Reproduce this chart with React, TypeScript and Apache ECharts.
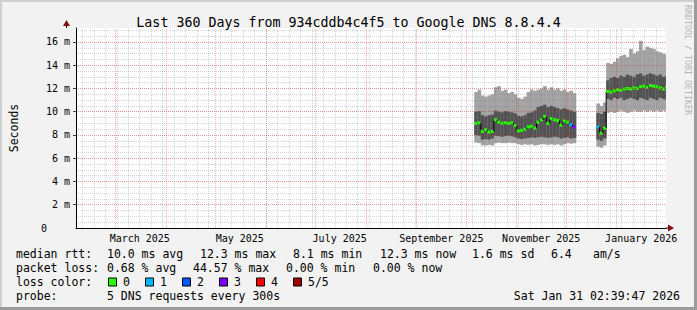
import React, { useEffect, useRef } from "react";
import * as echarts from "echarts";

const W = 697;
const H = 310;
const MONO = "'DejaVu Sans Mono', monospace";

// ---------- chart meta ----------
const TITLE = "Last 360 Days from 934cddb4c4f5 to Google DNS 8.8.4.4";
const START_MS = Date.UTC(2025, 1, 5, 2, 39, 47);
const SPAN_DAYS = 360;
const BUCKET_DAYS = 2;
const Y_MAX = 17.2;
const Y_STEP = 2;
const Y_MINOR = 0.5;

// ---------- axis calendar ----------
const monthGridDates = [
  "2025-03-01", "2025-04-01", "2025-05-01", "2025-06-01", "2025-07-01", "2025-08-01",
  "2025-09-01", "2025-10-01", "2025-11-01", "2025-12-01", "2026-01-01",
];
const monthLabelDates = ["2025-03-16", "2025-05-16", "2025-07-16", "2025-09-16", "2025-11-16", "2026-01-16"];
const monthLabelTexts = ["March 2025", "May 2025", "July 2025", "September 2025", "November 2025", "January 2026"];
const FIRST_SUNDAY = "2025-02-09";

// ---------- smoke data (ms), segment 1 ----------
const seg1Days = [243, 245, 247, 249, 251, 253, 255, 257, 259, 261, 263, 265, 267, 269, 271, 273, 275, 277, 279, 281, 283, 285, 287, 289, 291, 293, 295, 297, 299, 301, 303];
const seg1Max = [11.7, 11.9, 11.4, 11.3, 11.4, 11.5, 12.1, 12.2, 11.8, 11.9, 11.6, 11.7, 11.5, 11.2, 11.1, 11.3, 11.7, 11.9, 11.8, 11.9, 12.0, 12.2, 11.9, 12.1, 11.9, 12.0, 11.8, 11.9, 11.7, 11.8, 11.6];
const seg1P4 = [10.0, 10.05, 9.7, 9.6, 9.7, 9.75, 10.1, 10.0, 9.95, 10.05, 10.0, 9.95, 9.85, 9.65, 9.6, 9.7, 9.9, 9.95, 10.1, 10.4, 10.5, 10.6, 10.4, 10.5, 10.4, 10.3, 10.2, 10.3, 10.2, 10.1, 10.0];
const seg1Med = [9.0, 9.05, 8.3, 8.45, 8.25, 8.3, 9.3, 9.1, 9.0, 9.05, 9.0, 9.05, 8.8, 8.35, 8.4, 8.5, 8.7, 8.75, 8.6, 9.1, 9.3, 9.6, 9.0, 9.4, 9.3, 9.25, 8.85, 9.2, 9.1, 8.9, 8.7];
const seg1P2 = [8.0, 7.95, 7.6, 7.65, 7.6, 7.7, 7.95, 7.9, 7.85, 7.9, 7.95, 7.9, 7.8, 7.7, 7.65, 7.7, 7.75, 7.8, 7.75, 7.8, 7.85, 7.8, 7.75, 7.8, 7.85, 7.8, 7.7, 7.75, 7.8, 7.7, 7.75];
const seg1Min = [7.35, 7.3, 7.1, 7.1, 7.15, 7.1, 7.3, 7.35, 7.3, 7.3, 7.35, 7.3, 7.3, 7.2, 7.15, 7.2, 7.15, 7.2, 7.1, 7.15, 7.2, 7.2, 7.15, 7.2, 7.15, 7.2, 7.1, 7.2, 7.3, 7.25, 7.3];
const seg1Loss = [0, 0, 0, 0, 0, 0, 0, 0, 0, 0, 0, 0, 0, 0, 0, 0, 0, 0, 0, 0, 0, 0, 0, 0, 0, 0, 0, 0, 0, 1, 3];

// ---------- smoke data (ms), segment 2 ----------
const seg2Days = [317.5, 319.5, 321.5, 323.5, 325.5, 327.5, 329.5, 331.5, 333.5, 335.5, 337.5, 339.5, 341.5, 343.5, 345.5, 347.5, 349.5, 351.5, 353.5, 355.5, 357.5, 359.5];
const seg2Max = [10.7, 10.5, 10.8, 14.2, 14.1, 14.3, 14.6, 14.8, 14.9, 14.7, 15.4, 15.0, 15.2, 16.1, 15.3, 15.6, 15.5, 15.4, 15.2, 15.1, 15.0, 14.9];
const seg2P4 = [9.9, 9.8, 10.0, 12.7, 12.9, 13.0, 12.9, 13.1, 13.0, 13.2, 13.1, 13.0, 13.2, 13.3, 13.1, 13.2, 13.3, 13.2, 13.1, 13.2, 13.0, 13.1];
const seg2Med = [8.7, 8.15, 8.6, 11.75, 11.7, 11.8, 11.9, 11.85, 11.95, 12.0, 11.95, 12.05, 12.0, 12.15, 12.2, 12.1, 12.25, 12.2, 12.15, 12.05, 11.95, 12.1];
const seg2P2 = [7.6, 7.5, 7.7, 11.1, 11.0, 11.2, 11.1, 11.2, 11.0, 11.1, 11.2, 11.1, 11.0, 11.2, 11.1, 11.0, 11.2, 11.1, 11.0, 11.2, 11.1, 11.0];
const seg2Min = [7.0, 6.9, 7.1, 9.9, 10.0, 9.9, 10.0, 10.1, 10.0, 9.9, 10.0, 10.1, 10.0, 10.0, 10.1, 10.0, 10.1, 10.0, 10.1, 10.0, 10.1, 10.0];
const seg2Loss = [1, 0, 0, 0, 0, 0, 0, 0, 0, 0, 0, 0, 0, 0, 0, 0, 0, 0, 0, 0, 0, 0];

// ---------- legend texts ----------
const LOSS_COLORS = ["#26ff00", "#00b8ff", "#0059ff", "#7e00ff", "#ff0000", "#a10000"];
const LOSS_LABELS = ["0", "1", "2", "3", "4", "5/5"];
const legendRow1 = ["median rtt:", "10.0 ms avg", "12.3 ms max", "8.1 ms min", "12.3 ms now", "1.6 ms sd", "6.4", "am/s"];
const legendRow2 = ["packet loss:", "0.68 % avg", "44.57 % max", "0.00 % min", "0.00 % now"];
const legendRow3 = ["loss color:"];
const legendRow4 = ["probe:", "5 DNS requests every 300s"];
const STAMP = "Sat Jan 31 02:39:47 2026";
const WATERMARK = "RRDTOOL / TOBI OETIKER";

// ---------- layout (positions only) ----------
const ROW_Y = [254, 268, 282, 296];
const ROW1_X = [16, 107, 200, 293, 380, 472, 551, 593];
const ROW2_X = [16, 107, 193, 286, 373];
const ROW3_X = [16];
const ROW4_X = [16, 107];
const BOX_X = [108, 145, 182, 219, 256, 293];

const LIGHT = "#a3a3a3";
const DARK = "#515151";
const GRID_GRAY = "rgba(120,120,120,0.30)";
const GRID_RED = "rgba(255,0,0,0.30)";

const dayOf = (iso: string) => (Date.parse(iso + "T00:00:00Z") - START_MS) / 86400000;

function buildSegment(days: number[], mn: number[], p2: number[], md: number[], p4: number[], mx: number[], loss: number[]) {
  return days.map((d, i) => [d, mn[i], p2[i], md[i], p4[i], mx[i], loss[i], i > 0 ? md[i - 1] : -1]);
}

export default function App() {
  const ref = useRef<HTMLDivElement>(null);

  useEffect(() => {
    if (!ref.current) return;
    const chart = echarts.init(ref.current, undefined, { renderer: "svg" });

    const labelDays = monthLabelDates.map(dayOf);
    const monthDays = monthGridDates.map(dayOf);
    const weekDays: number[] = [];
    for (let d = dayOf(FIRST_SUNDAY); d < SPAN_DAYS; d += 7) weekDays.push(d);

    const smoke = [
      ...buildSegment(seg1Days, seg1Min, seg1P2, seg1Med, seg1P4, seg1Max, seg1Loss),
      ...buildSegment(seg2Days, seg2Min, seg2P2, seg2Med, seg2P4, seg2Max, seg2Loss),
    ];

    const textEl = (x: number, y: number, text: string, extra: any = {}) => ({
      type: "text",
      x,
      y,
      silent: true,
      style: { text, fontFamily: MONO, fontSize: 11.5, fill: "#000", verticalAlign: "middle", align: "left", ...extra },
    });

    const graphics: any[] = [
      { type: "rect", shape: { x: 0, y: 0, width: W, height: 2 }, style: { fill: "#cfcfcf" }, silent: true },
      { type: "rect", shape: { x: 0, y: 0, width: 2, height: H }, style: { fill: "#cfcfcf" }, silent: true },
      { type: "rect", shape: { x: W - 3, y: 0, width: 3, height: H }, style: { fill: "#9c9c9c" }, silent: true },
      { type: "rect", shape: { x: 0, y: H - 3, width: W, height: 3 }, style: { fill: "#9c9c9c" }, silent: true },
      // axis arrows
      { type: "line", shape: { x1: 66.5, y1: 28, x2: 66.5, y2: 24 }, style: { stroke: "#000", lineWidth: 1 }, silent: true, z: 10 },
      { type: "polygon", shape: { points: [[63, 26], [70, 26], [66.5, 20]] }, style: { fill: "#7f1010" }, silent: true, z: 10 },
      { type: "line", shape: { x1: 666, y1: 228, x2: 669, y2: 228 }, style: { stroke: "#000", lineWidth: 1 }, silent: true, z: 10 },
      { type: "polygon", shape: { points: [[668, 224.5], [668, 231.5], [674, 228]] }, style: { fill: "#7f1010" }, silent: true, z: 10 },
      // y-axis zero label (rrdtool prints it without unit)
      {
        type: "text",
        x: 47,
        y: 228,
        silent: true,
        style: { text: "0", fontFamily: MONO, fontSize: 10, fill: "#000", align: "right", verticalAlign: "middle" },
      },
      // watermark
      {
        type: "text",
        x: 688,
        y: 5,
        rotation: -Math.PI / 2,
        silent: true,
        style: { text: WATERMARK, fontFamily: MONO, fontSize: 8.3, fill: "#b4b4b4", align: "left", verticalAlign: "middle" },
      },
    ];
    legendRow1.forEach((t, i) => graphics.push(textEl(ROW1_X[i], ROW_Y[0], t)));
    legendRow2.forEach((t, i) => graphics.push(textEl(ROW2_X[i], ROW_Y[1], t)));
    legendRow3.forEach((t, i) => graphics.push(textEl(ROW3_X[i], ROW_Y[2], t)));
    LOSS_LABELS.forEach((t, i) => {
      graphics.push({
        type: "rect",
        shape: { x: BOX_X[i] + 0.5, y: ROW_Y[2] - 4, width: 8, height: 8 },
        style: { fill: LOSS_COLORS[i], stroke: "#000", lineWidth: 1 },
        silent: true,
      });
      graphics.push(textEl(BOX_X[i] + 15, ROW_Y[2], t));
    });
    legendRow4.forEach((t, i) => graphics.push(textEl(ROW4_X[i], ROW_Y[3], t)));
    graphics.push(textEl(680, ROW_Y[3], STAMP, { align: "right" }));

    const option: any = {
      animation: false,
      backgroundColor: "#f2f2f2",
      title: {
        text: TITLE,
        left: "center",
        top: 11,
        textStyle: { fontFamily: MONO, fontSize: 13.3, fontWeight: "normal", color: "#000" },
      },
      grid: { left: 66, right: 31, top: 28, bottom: 82, show: true, backgroundColor: "#ffffff", borderWidth: 0 },
      xAxis: [
        {
          type: "value",
          min: 0,
          max: SPAN_DAYS,
          axisLine: { show: true, lineStyle: { color: "#000", width: 1 } },
          axisTick: { show: false },
          splitLine: { show: false },
          axisLabel: {
            show: true,
            customValues: labelDays,
            interval: 0,
            hideOverlap: false,
            margin: 5,
            fontFamily: MONO,
            fontSize: 10,
            color: "#000",
            formatter: (v: number) => {
              const i = labelDays.findIndex((d) => Math.abs(d - v) < 1e-6);
              return i >= 0 ? monthLabelTexts[i] : "";
            },
          },
        },
      ],
      yAxis: [
        {
          type: "value",
          min: 0,
          max: Y_MAX,
          interval: Y_STEP,
          z: 5,
          name: "Seconds",
          nameLocation: "middle",
          nameGap: 56,
          nameRotate: 90,
          nameTextStyle: { fontFamily: MONO, fontSize: 11.5, color: "#000" },
          axisLine: { show: true, lineStyle: { color: "#000", width: 1 } },
          axisTick: { show: true, length: 3, lineStyle: { color: "#444" } },
          axisLabel: {
            showMaxLabel: false,
            showMinLabel: false,
            margin: 6,
            fontFamily: MONO,
            fontSize: 10,
            color: "#000",
            formatter: (v: number) => `${v} m`,
          },
          splitLine: { show: true, showMinLine: false, showMaxLine: false, lineStyle: { color: GRID_RED, type: [1, 1], width: 1 } },
        },
        {
          type: "value",
          min: 0,
          max: Y_MAX,
          interval: Y_MINOR,
          z: 4,
          axisLine: { show: false },
          axisTick: { show: false },
          axisLabel: { show: false },
          splitLine: { show: true, showMinLine: false, showMaxLine: false, lineStyle: { color: GRID_GRAY, type: [1, 1], width: 1 } },
        },
      ],
      series: [
        {
          type: "custom",
          xAxisIndex: 0,
          yAxisIndex: 0,
          clip: true,
          z: 2,
          data: smoke,
          encode: { x: 0, y: 3 },
          renderItem: (_params: any, api: any) => {
            const d = api.value(0);
            const mn = api.value(1);
            const p2 = api.value(2);
            const md = api.value(3);
            const p4 = api.value(4);
            const mx = api.value(5);
            const loss = api.value(6);
            const prev = api.value(7);
            const x0 = api.coord([d, 0])[0];
            const x1 = api.coord([d + BUCKET_DAYS, 0])[0];
            const w = x1 - x0 + 0.4;
            const y = (v: number) => api.coord([d, v])[1];
            const children: any[] = [
              { type: "rect", shape: { x: x0, y: y(mx), width: w, height: y(mn) - y(mx) }, style: { fill: LIGHT } },
              { type: "rect", shape: { x: x0, y: y(p4), width: w, height: y(p2) - y(p4) }, style: { fill: DARK } },
            ];
            if (prev >= 0) {
              children.push({
                type: "line",
                shape: { x1: x0, y1: y(prev), x2: x0, y2: y(md) },
                style: { stroke: "#000", lineWidth: 1 },
              });
            }
            children.push({
              type: "rect",
              shape: { x: x0, y: y(md) - 1.5, width: x1 - x0, height: 3 },
              style: { fill: LOSS_COLORS[loss] || LOSS_COLORS[0] },
            });
            return { type: "group", children };
          },
          markLine: {
            silent: true,
            symbol: ["none", "none"],
            label: { show: false },
            animation: false,
            z: 5,
            data: [
              ...weekDays.map((d) => ({ xAxis: d, lineStyle: { color: GRID_GRAY, type: [1, 1], width: 1 } })),
              ...monthDays.map((d) => ({ xAxis: d, lineStyle: { color: GRID_RED, type: [1, 1], width: 1 } })),
            ],
          },
        },
      ],
      graphic: graphics,
    };

    chart.setOption(option);
    return () => chart.dispose();
  }, []);

  return (
    <div
      ref={ref}
      style={{ position: "fixed", left: 0, top: 0, width: W, height: H }}
    />
  );
}
